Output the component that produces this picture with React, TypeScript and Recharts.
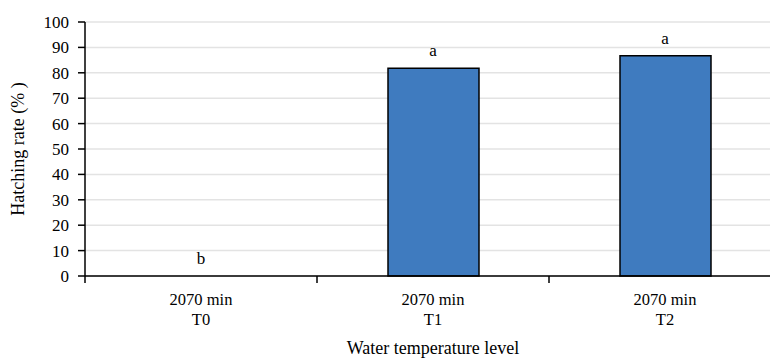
import { ComposedChart, Bar, Line, XAxis, YAxis, CartesianGrid, LabelList, Label } from 'recharts';

const durations = ['2070 min', '2070 min', '2070 min'];
const treatments = ['T0', 'T1', 'T2'];
const hatchingRate = [0, 81.8, 86.7];
const letters = ['b', 'a', 'a'];
const yTicks = [0, 10, 20, 30, 40, 50, 60, 70, 80, 90, 100];

const data = treatments.map((t, i) => ({
  name: t,
  duration: durations[i],
  rate: hatchingRate[i],
  letter: letters[i],
}));

const FONT = '"Liberation Serif", "Times New Roman", serif';
const INK = '#000';

// layout
const CHART_W = 790;
const CHART_H = 358;
const MARGIN = { top: 22, right: 9, bottom: 0, left: 0 };
const Y_W = 85;
const X_H = 82;
const PLOT_BOTTOM = CHART_H - X_H;
const BAND = (CHART_W - MARGIN.right - MARGIN.left - Y_W) / treatments.length;
const TICK = 7;

function CategoryTick({ x, payload, index }: any) {
  const edge = x - BAND / 2;
  return (
    <g>
      <line x1={edge} x2={edge} y1={PLOT_BOTTOM} y2={PLOT_BOTTOM + TICK} stroke={INK} strokeWidth={1.5} />
      <text x={x} y={PLOT_BOTTOM} textAnchor="middle" style={{ fontFamily: FONT }} fontSize={16.5} fill={INK}>
        <tspan x={x} dy={29}>{durations[index]}</tspan>
        <tspan x={x} dy={20}>{payload.value}</tspan>
      </text>
    </g>
  );
}

function ValueTick({ y, payload }: any) {
  return (
    <g>
      <line x1={Y_W - TICK} x2={Y_W} y1={y} y2={y} stroke={INK} strokeWidth={1.5} />
      <text x={Y_W - 16} y={y} dy="0.355em" textAnchor="end" style={{ fontFamily: FONT }} fontSize={17} fill={INK}>
        {payload.value}
      </text>
    </g>
  );
}

export default function App() {
  return (
    <div style={{ position: 'fixed', left: 0, top: 0, width: 770, height: 358, overflow: 'hidden', background: '#fff', fontFamily: FONT }}>
      <ComposedChart width={CHART_W} height={CHART_H} data={data} margin={MARGIN} style={{ fontFamily: FONT }}>
        <CartesianGrid vertical={false} stroke="#e3e3e3" strokeWidth={1.5} />
        <XAxis
          dataKey="name"
          axisLine={{ stroke: INK, strokeWidth: 1.5 }}
          tickLine={false}
          tick={<CategoryTick />}
          height={X_H}
          interval={0}
        >
          <Label
            value="Water temperature level"
            position="insideBottom"
            offset={4}
            style={{ fontFamily: FONT, fontSize: 18, fill: INK }}
          />
        </XAxis>
        <YAxis
          domain={[0, 100]}
          ticks={yTicks}
          width={Y_W}
          interval={0}
          axisLine={{ stroke: INK, strokeWidth: 1.5 }}
          tickLine={false}
          tick={<ValueTick />}
        >
          <Label
            value="Hatching rate (% )"
            angle={-90}
            position="insideLeft"
            offset={18}
            style={{ fontFamily: FONT, fontSize: 18, fill: INK, textAnchor: 'middle' }}
          />
        </YAxis>
        <Bar
          dataKey="rate"
          fill="#3f7bbf"
          stroke="#000"
          strokeWidth={1.5}
          barSize={91}
          isAnimationActive={false}
        />
        {/* invisible carrier for the significance letters */}
        <Line dataKey="rate" stroke="none" dot={false} activeDot={false} isAnimationActive={false}>
          <LabelList
            dataKey="letter"
            position="top"
            offset={12}
            style={{ fontFamily: FONT, fontSize: 17, fill: INK }}
          />
        </Line>
      </ComposedChart>
    </div>
  );
}
